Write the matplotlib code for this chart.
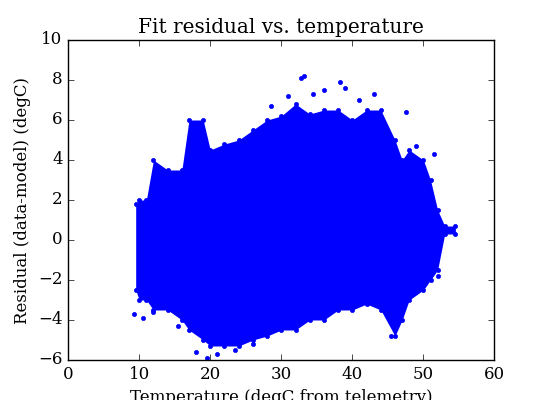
import matplotlib
matplotlib.use("Agg")
import matplotlib.pyplot as plt

plt.style.use("classic")
plt.rcParams["font.family"] = "DejaVu Serif"

# envelope of the dense point cloud (temperature, lower, upper residual)
temp = [9.5, 10, 11, 12, 14, 16, 17, 19, 20, 22, 24, 26, 28, 30, 32, 34, 36, 38, 40, 42, 44, 46, 47, 48, 50, 51, 52, 53, 54.5]
low = [-2.5, -3, -3, -3.5, -3.5, -4, -4.5, -5, -5.3, -5.3, -5.3, -5, -4.8, -4.5, -4.5, -4, -4, -3.5, -3.5, -3.2, -3.5, -4.8, -4, -3, -2.5, -2, -1.5, 0.3, 0.3]
high = [1.8, 2, 2, 4, 3.5, 3.5, 6, 6, 4.5, 4.8, 5, 5.5, 6, 6.2, 6.8, 6.3, 6.5, 6.5, 6, 6.5, 6.5, 5, 4, 4.5, 4, 3, 1.5, 0.7, 0.7]

# sparse outlier points
out_x = [9.3, 10.5, 12.0, 15.5, 18.0, 19.5, 21.0, 23.5, 26.0, 28.5, 31.0, 32.8, 33.2, 34.5, 36.0, 38.2, 39.0, 41.0, 43.0, 45.5, 47.5, 49.0, 51.5, 52.0]
out_y = [-3.7, -3.9, -3.6, -4.3, -5.6, -5.9, -5.7, -5.5, -5.2, 6.7, 7.2, 8.1, 8.2, 7.3, 7.5, 7.9, 7.6, 7.0, 7.3, -4.8, 6.4, 4.7, 4.3, -1.8]

fig = plt.figure(figsize=(5.5, 4.0), dpi=100)
ax = fig.add_axes([0.124, 0.10, 0.775, 0.80])
ax.fill_between(temp, low, high, color="blue", linewidth=0)
ax.plot(temp, low, "o", color="blue", ms=3, mec="blue")
ax.plot(temp, high, "o", color="blue", ms=3, mec="blue")
ax.plot(out_x, out_y, "o", color="blue", ms=3, mec="blue")
ax.set_xlim(0, 60)
ax.set_ylim(-6, 10)
ax.set_title("Fit residual vs. temperature")
ax.set_xlabel("Temperature (degC from telemetry)")
ax.set_ylabel("Residual (data-model) (degC)")
fig.savefig("out.png", dpi=100, facecolor="white")
